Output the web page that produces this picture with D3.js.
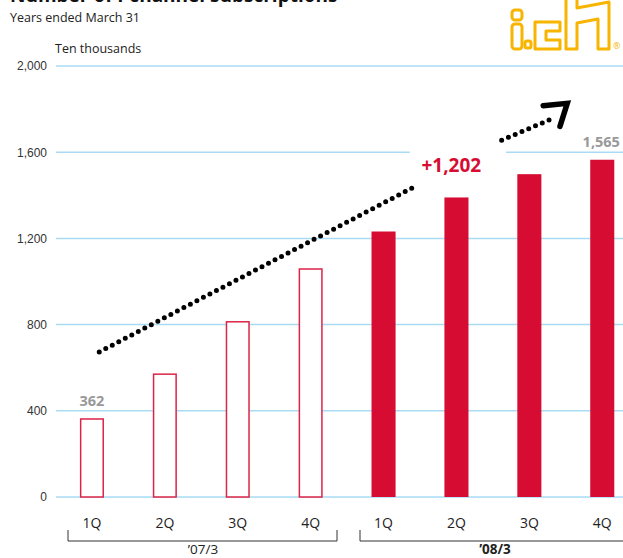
<!DOCTYPE html>
<html><head><meta charset="utf-8">
<script src="https://cdn.jsdelivr.net/npm/d3@7"></script>
<style>
html,body{margin:0;padding:0;background:#fff;}
svg{display:block;font-family:"Open Sans","Noto Sans",sans-serif;}
</style></head>
<body>
<svg id="chart" width="623" height="558"></svg>
<script>
// ---- data ----
const quarters = ["1Q","2Q","3Q","4Q","1Q","2Q","3Q","4Q"];
const fiscalYears = ["’07/3","’07/3","’07/3","’07/3","’08/3","’08/3","’08/3","’08/3"];
const subscriptions = [362, 570, 813, 1058, 1232, 1390, 1498, 1565];
const yTicks = [0, 400, 800, 1200, 1600, 2000];
const yearGroups = ["’07/3", "’08/3"];
const valueLabels = [{i:0, text:"362"}, {i:7, text:"1,565"}];
const increaseLabel = "+1,202";
// trend arrow in (category index, value) space
const trend1 = [[0.1, 673], [4.42, 1439]];
const trend2 = [[5.62, 1656], [6.34, 1759]];
const arrowHead = [[6.19, 1816], [6.52, 1827], [6.42, 1720]];

const svg = d3.select("#chart");
const keys = quarters.map((q,i)=> fiscalYears[i] + q);
const x = d3.scaleBand().domain(keys).range([55.5, 638.7]).paddingInner(0.67).paddingOuter(0.335);
const y = d3.scaleLinear().domain([0, 2000]).range([497, 66]);
const step = x.step();
const xc = i => x(keys[0]) + x.bandwidth()/2 + i*step;

const red = "#d70c33";
const grid = "#a9dcf4";

// header
svg.append("text").attr("x", 10).attr("y", 2).attr("font-size", 19).attr("font-weight", "bold")
  .attr("fill", "#111").text("Number of i-channel subscriptions");
svg.append("text").attr("x", 10).attr("y", 22).attr("font-size", 12.5).attr("fill", "#222").text("Years ended March 31");
svg.append("text").attr("x", 55).attr("y", 53).attr("font-size", 12.5).attr("fill", "#222").text("Ten thousands");

// gridlines + y labels
const yAxis = d3.axisLeft(y).tickValues(yTicks).tickFormat(d3.format(",")).tickSize(0).tickPadding(0);
const gy = svg.append("g").attr("transform", "translate(47,0)").call(yAxis);
gy.select(".domain").remove();
gy.selectAll("text").attr("font-size", 12).attr("fill", "#333").attr("font-family", "inherit");
svg.append("g").selectAll("line").data(yTicks).join("line")
  .attr("x1", 56).attr("x2", 623).attr("y1", d=>y(d)).attr("y2", d=>y(d))
  .attr("stroke", grid).attr("stroke-width", 1.5);

// white background for the increase label
svg.append("rect").attr("x", xc(4.36)).attr("y", y(1650)).attr("width", xc(5.68)-xc(4.36)).attr("height", y(1560)-y(1650))
  .attr("fill", "#fff");

// bars
svg.append("g").selectAll("rect").data(subscriptions).join("rect")
  .attr("x", (d,i)=> x(keys[i]) + (i<4 ? 0.75 : 0))
  .attr("y", d=> y(d))
  .attr("width", (d,i)=> x.bandwidth() - (i<4 ? 1.5 : 0))
  .attr("height", d=> y(0) - y(d))
  .attr("fill", (d,i)=> i<4 ? "#fff" : red)
  .attr("stroke", (d,i)=> i<4 ? "#dc2447" : "none")
  .attr("stroke-width", 1.5);

// value labels
svg.append("g").selectAll("text").data(valueLabels).join("text")
  .attr("x", d=> d.i===7 ? xc(d.i)-1 : xc(d.i))
  .attr("y", d=> y(subscriptions[d.i]) - 13)
  .attr("text-anchor", "middle").attr("font-size", 14.5).attr("font-weight", "bold")
  .attr("fill", "#999").text(d=>d.text);
svg.append("text").attr("x", xc(4.93)).attr("y", y(1540)).attr("dy", "0.35em")
  .attr("text-anchor", "middle").attr("font-size", 19).attr("font-weight", "bold")
  .attr("fill", red).text(increaseLabel);

// trend arrow
const line = d3.line().x(d=>xc(d[0])).y(d=>y(d[1]));
[trend1, trend2].forEach(seg=>{
  svg.append("path").attr("d", line(seg)).attr("fill", "none").attr("stroke", "#000")
    .attr("stroke-width", 5).attr("stroke-linecap", "round").attr("stroke-dasharray", "0 7.35");
});
svg.append("path").attr("d", line(arrowHead)).attr("fill", "none").attr("stroke", "#000")
  .attr("stroke-width", 5.5).attr("stroke-linecap", "round").attr("stroke-linejoin", "miter");

// category labels
svg.append("g").selectAll("text").data(quarters).join("text")
  .attr("x", (d,i)=> xc(i)).attr("y", 528).attr("text-anchor", "middle")
  .attr("font-size", 14).attr("fill", "#222").text(d=>d);

// brackets
const brackets = [[68, 337], [360, 640]];
brackets.forEach((b, k)=>{
  svg.append("path").attr("d", `M${b[0]},530V541H${b[1]}V530`).attr("fill", "none")
    .attr("stroke", "#333").attr("stroke-width", 1);
  svg.append("text").attr("x", k===0 ? 203 : 495).attr("y", 554).attr("text-anchor", "middle")
    .attr("font-size", 13.5).attr("font-weight", k===0 ? "normal" : "bold").attr("fill", "#222")
    .text(yearGroups[k]);
});

// logo
const logo = svg.append("g").attr("fill", "none").attr("stroke", "#f7b500").attr("stroke-width", 3)
  .attr("stroke-linejoin", "round");
logo.append("rect").attr("x", 512).attr("y", 10).attr("width", 10).attr("height", 10).attr("rx", 3);
logo.append("rect").attr("x", 512).attr("y", 24).attr("width", 10).attr("height", 25).attr("rx", 3);
logo.append("rect").attr("x", 525).attr("y", 41).attr("width", 6).attr("height", 7).attr("rx", 2);
logo.append("path").attr("d", "M535,22H560V31H546V40H560V49H535Z");
logo.append("path").attr("d", "M566,-2V49H577V23L598,19V49H609V2L577,8V-2");
svg.append("text").attr("x", 613).attr("y", 49).attr("font-size", 9).attr("fill", "#f7b500").text("®");
</script>
</body></html>
